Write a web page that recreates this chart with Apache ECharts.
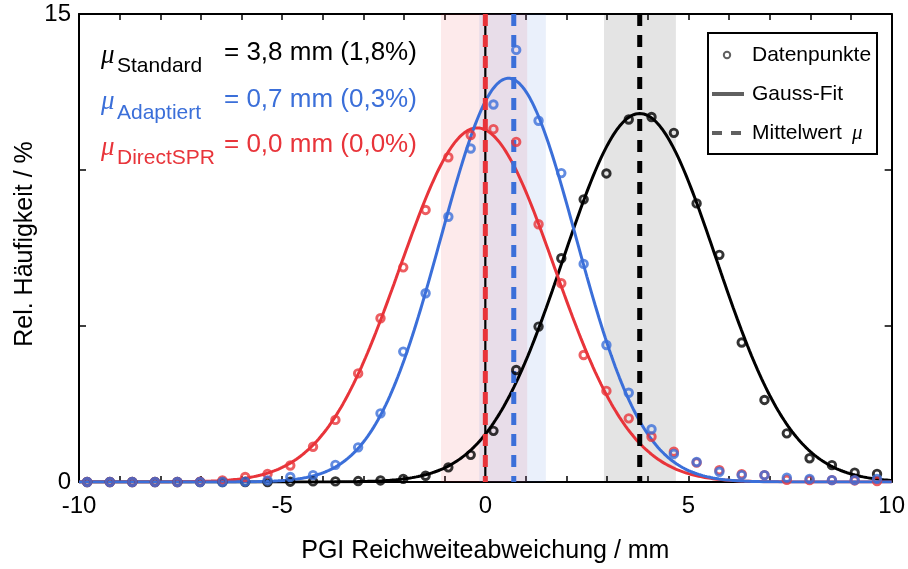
<!DOCTYPE html>
<html>
<head>
<meta charset="utf-8">
<script src="https://cdn.jsdelivr.net/npm/echarts@6/dist/echarts.min.js"></script>
<style>
  html, body { margin: 0; padding: 0; background: #fff; }
  #chart { width: 908px; height: 569px; }
</style>
</head>
<body>
<div id="chart"></div>
<script>
// Bin centres of the range-deviation histogram (mm)
const binCenters = [-9.80, -9.24, -8.69, -8.13, -7.58, -7.02, -6.47, -5.91, -5.36, -4.80,
  -4.24, -3.69, -3.13, -2.58, -2.02, -1.47, -0.91, -0.36, 0.20, 0.76,
  1.31, 1.87, 2.42, 2.98, 3.53, 4.09, 4.64, 5.20, 5.76, 6.31,
  6.87, 7.42, 7.98, 8.53, 9.09, 9.64];

// Relative frequency (%) per bin
const standardPct = [0, 0, 0, 0, 0, 0, 0, 0, 0, 0.01,
  0.02, 0.02, 0.03, 0.05, 0.10, 0.20, 0.47, 0.87, 1.64, 3.59,
  4.98, 7.17, 9.06, 9.89, 11.62, 11.70, 11.19, 8.93, 7.28, 4.47,
  2.63, 1.56, 0.76, 0.54, 0.30, 0.26];
const adaptedPct = [0, 0, 0, 0, 0, 0, 0, 0.01, 0.05, 0.16,
  0.22, 0.55, 1.11, 2.20, 4.18, 6.05, 8.50, 10.69, 12.10, 13.85,
  11.58, 9.90, 6.99, 4.39, 2.86, 1.69, 0.90, 0.64, 0.33, 0.22,
  0.22, 0.14, 0.10, 0.06, 0.06, 0.10];
const directPct = [0, 0, 0, 0, 0, 0.01, 0.05, 0.16, 0.26, 0.53,
  1.13, 1.99, 3.48, 5.25, 6.88, 8.72, 10.41, 11.12, 11.31, 10.90,
  8.26, 6.37, 4.07, 2.92, 2.04, 1.45, 0.97, 0.62, 0.38, 0.25,
  0.22, 0.07, 0.06, 0.06, 0.05, 0.03];

// Gauss-fit parameters: Standard, Adaptiert, DirectSPR
const seriesNames = ['Standard', 'Adaptiert', 'DirectSPR'];
const seriesColors = ['#000000', '#3b6fd9', '#e8343a'];
const fitAmplitude = [11.81, 12.94, 11.35];
const fitMean = [3.80, 0.57, -0.20];
const fitSigma = [1.88, 1.66, 1.90];

// Mean values (mm) and spread bands (mm)
const meanValues = [3.8, 0.7, 0.0];
const bandLow = [2.92, -0.15, -1.09];
const bandHigh = [4.69, 1.49, 1.03];

// Annotation texts
const meanTexts = ['= 3,8 mm (1,8%)', '= 0,7 mm (0,3%)', '= 0,0 mm (0,0%)'];

// Axis ticks
const xLabelTicks = [-10, -5, 0, 5, 10];
const yLabelTicks = [0, 15];

const FONT = "'Liberation Sans', Arial, sans-serif";

function gaussCurve(i) {
  const pts = [];
  for (let x = -10; x <= 10.0001; x += 0.05) {
    const d = x - fitMean[i];
    pts.push([x, fitAmplitude[i] * Math.exp(-d * d / (2 * fitSigma[i] * fitSigma[i]))]);
  }
  return pts;
}

const bandFills = ['rgba(0,0,0,0.105)', 'rgba(59,111,217,0.105)', 'rgba(232,52,58,0.10)'];
const bandOrder = [0, 2, 1];

const series = [];

// spread bands
series.push({
  type: 'custom',
  silent: true,
  z: 1,
  data: bandOrder.map(i => [bandLow[i], bandHigh[i], i]),
  renderItem: function (params, api) {
    const i = api.value(2);
    const p0 = api.coord([api.value(0), 15]);
    const p1 = api.coord([api.value(1), 0]);
    return {
      type: 'rect',
      shape: { x: p0[0], y: p0[1], width: p1[0] - p0[0], height: p1[1] - p0[1] },
      style: { fill: bandFills[i] }
    };
  }
});

// Gauss fits
[0, 2, 1].forEach(i => {
  series.push({
    name: seriesNames[i] + ' Fit',
    type: 'line',
    data: gaussCurve(i),
    showSymbol: false,
    smooth: false,
    silent: true,
    z: 2,
    lineStyle: { color: seriesColors[i], width: 3 },
    animation: false
  });
});

// zero reference line
series.push({
  type: 'custom',
  silent: true,
  z: 3,
  data: [[0]],
  renderItem: function (params, api) {
    const a = api.coord([api.value(0), 0]);
    const b = api.coord([api.value(0), 15]);
    return {
      type: 'line',
      shape: { x1: a[0], y1: a[1], x2: b[0], y2: b[1] },
      style: { stroke: '#000', lineWidth: 2.2 }
    };
  }
});

// mean lines
series.push({
  type: 'custom',
  silent: true,
  z: 3,
  data: [[meanValues[0], 0], [meanValues[1], 1], [meanValues[2], 2]],
  renderItem: function (params, api) {
    const i = api.value(1);
    const a = api.coord([api.value(0), 0]);
    const b = api.coord([api.value(0), 15]);
    return {
      type: 'line',
      shape: { x1: a[0], y1: b[1], x2: b[0], y2: a[1] },
      style: { stroke: seriesColors[i], lineWidth: 5, lineDash: [12, 9] }
    };
  }
});

// data points
const pointSets = [standardPct, directPct, adaptedPct];
const pointColors = [seriesColors[0], seriesColors[2], seriesColors[1]];
pointSets.forEach((vals, k) => {
  series.push({
    type: 'scatter',
    symbol: 'circle',
    symbolSize: 7.5,
    z: 4,
    silent: true,
    data: binCenters.map((x, j) => [x, vals[j]]),
    itemStyle: { color: 'rgba(0,0,0,0)', borderColor: pointColors[k], borderWidth: 2.9 }
  });
});

const axisLineStyle = { color: '#000', width: 2 };

const option = {
  animation: false,
  backgroundColor: '#fff',
  grid: { left: 79, right: 11, top: 14, bottom: 87, containLabel: false },
  xAxis: [{
    type: 'value', min: -10, max: 10, interval: 1,
    position: 'bottom',
    name: 'PGI Reichweiteabweichung / mm',
    nameLocation: 'middle', nameGap: 57,
    nameTextStyle: { fontFamily: FONT, fontSize: 25, color: '#000' },
    axisLine: { show: true, onZero: false, lineStyle: axisLineStyle },
    axisTick: { show: true, inside: true, length: 6, lineStyle: { color: '#000', width: 1.5 } },
    axisLabel: {
      margin: 12, fontFamily: FONT, fontSize: 24, color: '#000',
      formatter: v => xLabelTicks.indexOf(v) >= 0 ? String(v) : ''
    },
    splitLine: { show: false }
  }, {
    type: 'value', min: -10, max: 10, interval: 1,
    position: 'top',
    axisLine: { show: true, onZero: false, lineStyle: axisLineStyle },
    axisTick: { show: true, inside: true, length: 6, lineStyle: { color: '#000', width: 1.5 } },
    axisLabel: { show: false },
    splitLine: { show: false }
  }],
  yAxis: [{
    type: 'value', min: 0, max: 15, interval: 5,
    position: 'left',
    axisLine: { show: true, onZero: false, lineStyle: axisLineStyle },
    axisTick: { show: true, inside: true, length: 7, lineStyle: { color: '#000', width: 1.5 } },
    axisLabel: {
      margin: 8, fontFamily: FONT, fontSize: 24, color: '#000',
      formatter: v => yLabelTicks.indexOf(v) >= 0 ? String(v) : ''
    },
    splitLine: { show: false }
  }, {
    type: 'value', min: 0, max: 15, interval: 5,
    position: 'right',
    axisLine: { show: true, onZero: false, lineStyle: axisLineStyle },
    axisTick: { show: true, inside: true, length: 7, lineStyle: { color: '#000', width: 1.5 } },
    axisLabel: { show: false },
    splitLine: { show: false }
  }],
  series: series,
  graphic: []
};

// y-axis title
option.graphic.push({
  type: 'text', x: 25, y: 244, rotation: Math.PI / 2, silent: true,
  style: { text: 'Rel. Häufigkeit / %', font: '25px ' + FONT, fill: '#000', align: 'center', verticalAlign: 'middle' }
});

// mean annotations (top left)
const lineY = [55, 101.5, 147];
for (let i = 0; i < 3; i++) {
  const c = seriesColors[i];
  option.graphic.push({
    type: 'text', left: 101, top: lineY[i] - 13, silent: true,
    style: { text: 'μ', font: "italic 27px 'Liberation Serif', serif", fill: c }
  });
  option.graphic.push({
    type: 'text', left: 117, top: lineY[i] + 1, silent: true,
    style: { text: seriesNames[i], font: '21px ' + FONT, fill: c }
  });
  option.graphic.push({
    type: 'text', left: 224, top: lineY[i] - 15, silent: true,
    style: { text: meanTexts[i], font: '26px ' + FONT, fill: c }
  });
}

// legend box
const legendGray = '#606060';
option.graphic.push(
  { type: 'rect', shape: { x: 708, y: 33, width: 169, height: 121 }, style: { fill: '#fff', stroke: '#000', lineWidth: 2 }, z: 10 },
  { type: 'circle', shape: { cx: 727, cy: 55, r: 3.2 }, style: { fill: 'none', stroke: legendGray, lineWidth: 2 }, z: 11 },
  { type: 'text', left: 752, top: 45, style: { text: 'Datenpunkte', font: '21px ' + FONT, fill: '#000' }, z: 11 },
  { type: 'line', shape: { x1: 712, y1: 94, x2: 744, y2: 94 }, style: { stroke: legendGray, lineWidth: 4 }, z: 11 },
  { type: 'text', left: 752, top: 84, style: { text: 'Gauss-Fit', font: '21px ' + FONT, fill: '#000' }, z: 11 },
  { type: 'line', shape: { x1: 712, y1: 133, x2: 744, y2: 133 }, style: { stroke: legendGray, lineWidth: 4, lineDash: [10, 9] }, z: 11 },
  { type: 'text', left: 752, top: 123, style: { text: 'Mittelwert ', font: '21px ' + FONT, fill: '#000' }, z: 11 },
  { type: 'text', left: 852, top: 123, style: { text: 'μ', font: "italic 21px 'Liberation Serif', serif", fill: '#000' }, z: 11 }
);

const chart = echarts.init(document.getElementById('chart'), null, { renderer: 'canvas' });
chart.setOption(option);
</script>
</body>
</html>
